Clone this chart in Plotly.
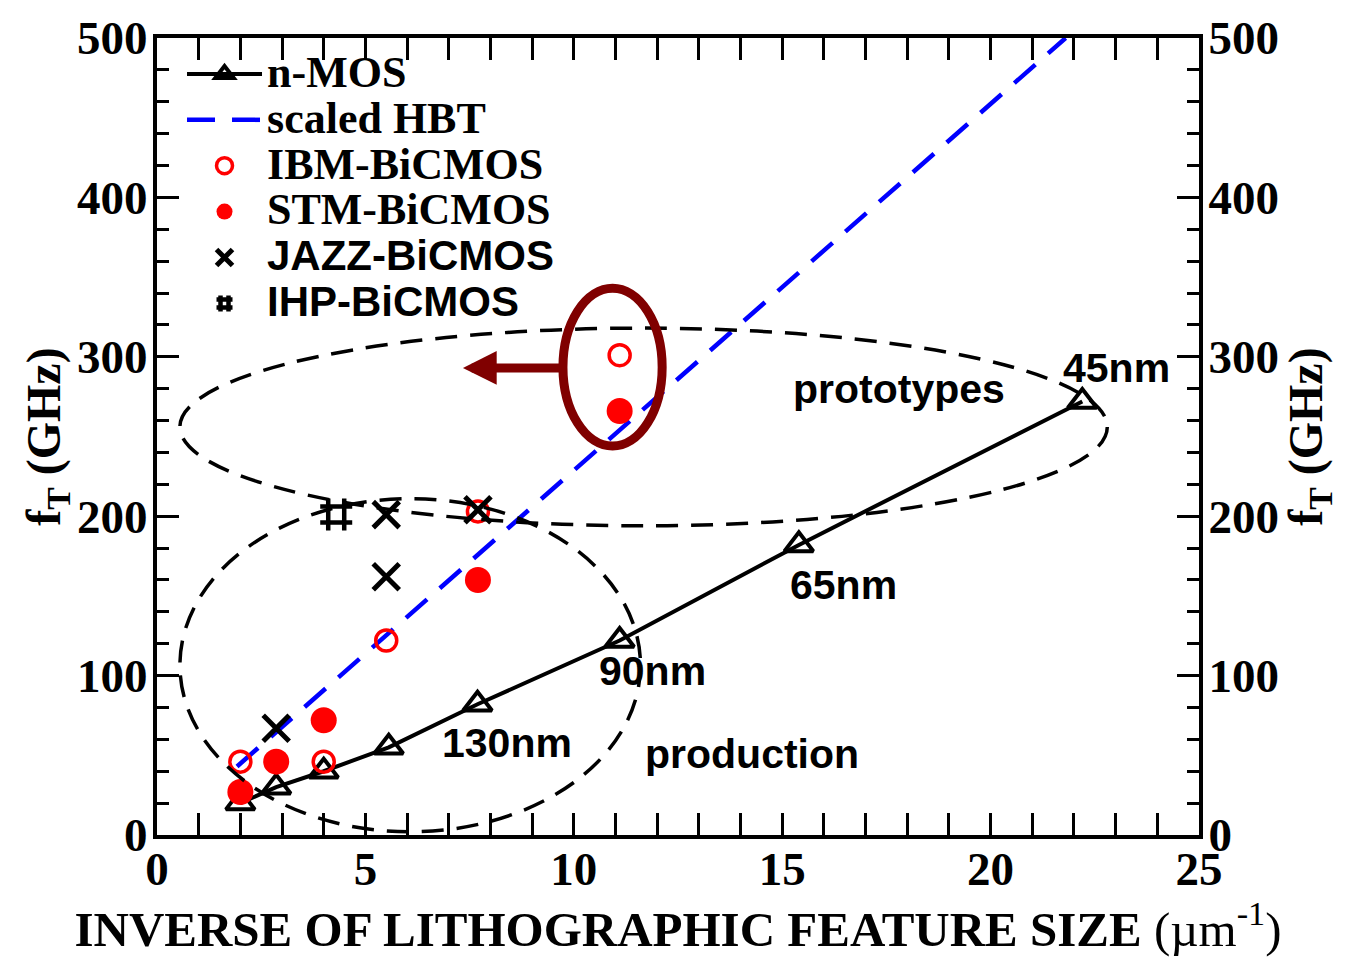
import plotly.graph_objects as go

# ---------------- data ----------------
nmos_x = [2.0, 2.86, 4.0, 5.56, 7.69, 11.1, 15.4, 22.2]
nmos_y = [20, 30, 40, 55, 82, 122, 182, 272]

hbt_x = [1.92, 21.8]
hbt_y = [43, 500]

ibm_x = [2.0, 4.0, 5.5, 7.7, 11.1]
ibm_y = [46, 46, 122, 203, 301]

stm_x = [2.0, 2.86, 4.0, 7.7, 11.1]
stm_y = [27, 46, 72, 160, 266]

jazz_x = [2.86, 5.5, 5.5, 7.7]
jazz_y = [67, 162, 201, 204]

ihp_x = [4.3]
ihp_y = [201]

x_ticks = [0, 5, 10, 15, 20, 25]
y_ticks = [0, 100, 200, 300, 400, 500]

node_labels = ["130nm", "90nm", "65nm", "45nm"]
node_label_x = [8.4, 11.9, 16.46, 23.03]
node_label_y = [58, 103, 157, 293]

SERIF = "Liberation Serif"
SANS = "Liberation Sans"
RED = "#ff0000"
MAROON = "#800000"

fig = go.Figure()

fig.add_trace(go.Scatter(
    x=nmos_x, y=nmos_y, mode="lines+markers",
    name="<span style='font-size:44px'>n-MOS</span>",
    line=dict(color="black", width=4),
    marker=dict(symbol="triangle-up-open", size=25, color="black",
                line=dict(width=4, color="black")),
))
fig.add_trace(go.Scatter(
    x=hbt_x, y=hbt_y, mode="lines",
    name="<span style='font-size:44px'>scaled HBT</span>",
    line=dict(color="#0000ff", width=4.5, dash="28px,17px"),
))
fig.add_trace(go.Scatter(
    x=ibm_x, y=ibm_y, mode="markers",
    name="<span style='font-size:44px'>IBM-BiCMOS</span>",
    marker=dict(symbol="circle-open", size=21, color=RED,
                line=dict(width=3.5, color=RED)),
))
fig.add_trace(go.Scatter(
    x=stm_x, y=stm_y, mode="markers",
    name="<span style='font-size:44px'>STM-BiCMOS</span>",
    marker=dict(symbol="circle", size=26, color=RED, line=dict(width=0)),
))
fig.add_trace(go.Scatter(
    x=jazz_x, y=jazz_y, mode="markers",
    name="<span style='font-family:Liberation Sans;font-size:42px'>JAZZ-BiCMOS</span>",
    marker=dict(symbol="x-thin-open", size=26, color="black",
                line=dict(width=5, color="black")),
))
fig.add_trace(go.Scatter(
    x=ihp_x, y=ihp_y, mode="markers",
    name="<span style='font-family:Liberation Sans;font-size:42px'>IHP-BiCMOS</span>",
    marker=dict(symbol="hash-open", size=32, color="black",
                line=dict(width=4.5, color="black")),
))
# twin for right axis
fig.add_trace(go.Scatter(x=[None], y=[None], yaxis="y2", showlegend=False,
                         hoverinfo="skip"))

tickfont = dict(family=SERIF, size=47, color="black", weight="bold")
common = dict(
    showgrid=False, zeroline=False, showline=True, linecolor="black",
    linewidth=4, ticks="inside", ticklen=22, tickwidth=3, tickcolor="black",
    tickfont=tickfont,
)
minor_common = dict(ticklen=12, tickwidth=3, ticks="inside", tickcolor="black")

fig.update_layout(
    width=1345, height=957,
    margin=dict(l=157, r=146, t=29, b=122),
    paper_bgcolor="white", plot_bgcolor="white",
    showlegend=True,
    legend=dict(
        x=0.024, y=0.99, xanchor="left", yanchor="top",
        bgcolor="rgba(0,0,0,0)", borderwidth=0,
        font=dict(family=SERIF, size=33, color="black", weight="bold"),
        itemwidth=75, tracegroupgap=0,
    ),
    xaxis=dict(
        range=[0, 25], tickvals=x_ticks, mirror="allticks",
        ticklabelstandoff=-10,
        minor=dict(dtick=1, **minor_common),
        title=dict(text="<b>INVERSE OF LITHOGRAPHIC FEATURE SIZE</b> (µm<sup>-1</sup>)",
                   font=dict(family=SERIF, size=49, color="black"), standoff=12),
        **common,
    ),
    yaxis=dict(
        range=[0, 500], tickvals=y_ticks, ticklabelstandoff=-4,
        minor=dict(dtick=20, **minor_common),
        title=dict(text="<b>f<sub>T</sub> (GHz)</b>",
                   font=dict(family=SERIF, size=48, color="black"), standoff=0),
        **common,
    ),
    yaxis2=dict(
        range=[0, 500], tickvals=y_ticks, overlaying="y", side="right",
        ticklabelstandoff=-4,
        minor=dict(dtick=20, **minor_common),
        title=dict(text="<b>f<sub>T</sub> (GHz)</b>",
                   font=dict(family=SERIF, size=48, color="black"), standoff=6),
        **common,
    ),
)

# dashed group ellipses and highlight
fig.add_shape(type="circle", xref="x", yref="y", x0=0.55, x1=22.8, y0=194, y1=318,
              line=dict(color="black", width=3.5, dash="22px,13px"))
fig.add_shape(type="circle", xref="x", yref="y", x0=0.55, x1=11.6, y0=2, y1=211,
              line=dict(color="black", width=3.5, dash="22px,13px"))
fig.add_shape(type="circle", xref="x", yref="y", x0=9.74, x1=12.12, y0=244, y1=343,
              line=dict(color=MAROON, width=9))

# arrow
fig.add_annotation(x=7.34, y=293, ax=9.74, ay=293, axref="x", ayref="y",
                   xref="x", yref="y", text="", showarrow=True,
                   arrowhead=2, arrowsize=0.75, arrowwidth=9, arrowcolor=MAROON)

# node labels
for lab, lx, ly in zip(node_labels, node_label_x, node_label_y):
    fig.add_annotation(x=lx, y=ly, xref="x", yref="y", text=lab, showarrow=False,
                       font=dict(family=SANS, size=41, color="black", weight="bold"))
fig.add_annotation(x=17.8, y=280, xref="x", yref="y", text="prototypes", showarrow=False,
                   font=dict(family=SANS, size=41, color="black", weight="bold"))
fig.add_annotation(x=14.28, y=51, xref="x", yref="y", text="production", showarrow=False,
                   font=dict(family=SANS, size=41, color="black", weight="bold"))

fig.write_html("out.html")
